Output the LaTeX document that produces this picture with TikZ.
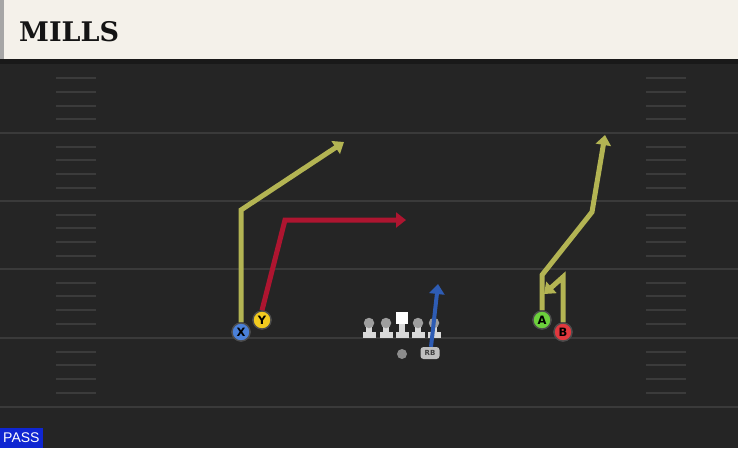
\documentclass[tikz,border=0pt]{standalone}
\usepackage{fontspec}
\setmainfont{DejaVu Sans}
\newfontfamily\titlefont{DejaVu Serif}
\newfontfamily\passfont{Liberation Sans}
\usetikzlibrary{arrows.meta}
\definecolor{bgc}{HTML}{252525}
\definecolor{linec}{HTML}{3A3A3A}
\definecolor{hashc}{HTML}{3B3B3B}
\definecolor{creamc}{HTML}{F4F1EA}
\definecolor{olivec}{HTML}{B3B453}
\definecolor{redc}{HTML}{AE1530}
\definecolor{bluec}{HTML}{2E5CB4}
\definecolor{xc}{HTML}{4A80D8}
\definecolor{yc}{HTML}{F2CB1F}
\definecolor{ac}{HTML}{6CD03C}
\definecolor{bc}{HTML}{E0383E}
\definecolor{passc}{HTML}{0F26D2}
\tikzset{
  yardline/.style={draw=linec, line width=2pt},
  hashmark/.style={draw=hashc, line width=2pt},
  player/.style={circle, draw=black!70, line width=1.3pt, minimum size=18pt, inner sep=0pt,
    font=\bfseries\fontsize{11.5}{11.5}\selectfont, text=black},
  route/.style={line width=5pt, line join=miter, -{Triangle[width=15pt,length=10pt]}},
  headc/.style={circle, fill=black!38, inner sep=0pt, minimum size=10.5pt},
  bodyc/.style={fill=black!15},
}
\begin{document}
\begin{tikzpicture}[x=1pt,y=-1pt]
\useasboundingbox (0,0) rectangle (738,448);
\fill[bgc] (0,0) rectangle (738,448);
% yard lines
\foreach \y in {133,201,269,338,407} {
  \draw[yardline] (0,\y) -- (738,\y);
}
% hash marks
\foreach \b in {64.5,133,201,269,338} {
  \foreach \k in {1,2,3,4} {
    \draw[hashmark] (56,{\b+13.7*\k}) -- (96,{\b+13.7*\k});
    \draw[hashmark] (646,{\b+13.7*\k}) -- (686,{\b+13.7*\k});
  }
}
% title bar
\fill[black!90] (0,59) rectangle (738,64);
\fill[creamc] (0,0) rectangle (738,59);
\fill[black!35] (0,0) rectangle (4,59);
\node[anchor=west, inner sep=0pt, font=\titlefont\bfseries\fontsize{27}{27}\selectfont, text=black!92] (title) at (19,32) {MILLS};
% linemen
\foreach \x/\n in {369/lt,386/lg,418/rg,434/rt} {
  \fill[bodyc] (\x-3,324) rectangle (\x+3,334);
  \fill[bodyc] (\x-6.5,332) rectangle (\x+6.5,338);
  \node[headc] (\n) at (\x,323) {};
}
\fill[bodyc] (399,322) rectangle (405,334);
\fill[bodyc] (395.5,332) rectangle (408.5,338);
\node[fill=white, inner sep=0pt, minimum size=12.5pt] (c) at (402,318) {};
% QB and RB
\node[circle, fill=black!45, inner sep=0pt, minimum size=10pt] (qb) at (402,354) {};
\node[rounded corners=3pt, fill=black!25, inner sep=0pt, minimum width=19pt, minimum height=12pt,
  font=\bfseries\fontsize{7}{7}\selectfont, text=black!75] (rb) at (430,353) {RB};
% route coordinates
\coordinate (x1) at (241,210);
\coordinate (xe) at (344,142);
\coordinate (y1) at (285,220);
\coordinate (ye) at (406,220);
\coordinate (a1) at (542,275);
\coordinate (a2) at (592,212);
\coordinate (ae) at (605,135);
\coordinate (b1) at (563,277);
\coordinate (be) at (544,294);
\coordinate (rbe) at (438,284);
% players
\node[player, fill=xc] (X) at (241,332) {X};
\node[player, fill=yc] (Y) at (262,320) {Y};
\node[player, fill=ac] (A) at (542,320) {A};
\node[player, fill=bc] (B) at (563,332) {B};
% routes
\draw[route, draw=olivec] (X.north) -- (x1) -- (xe);
\draw[route, draw=redc] (Y.north) -- (y1) -- (ye);
\draw[route, draw=olivec] (A.north) -- (a1) -- (a2) -- (ae);
\draw[route, draw=olivec] (B.north) -- (b1) -- (be);
\draw[route, draw=bluec, line width=4pt] (rb.north) ++(1,0) -- (rbe);
% redraw players on top
\node[player, fill=xc] at (X) {X};
\node[player, fill=yc] at (Y) {Y};
\node[player, fill=ac] at (A) {A};
\node[player, fill=bc] at (B) {B};
% PASS label
\node[anchor=south west, fill=passc, text=white, inner xsep=3pt, inner ysep=2pt, minimum height=20pt,
  font=\passfont\fontsize{14}{14}\selectfont] (pass) at (0,448) {PASS};
\end{tikzpicture}
\end{document}
